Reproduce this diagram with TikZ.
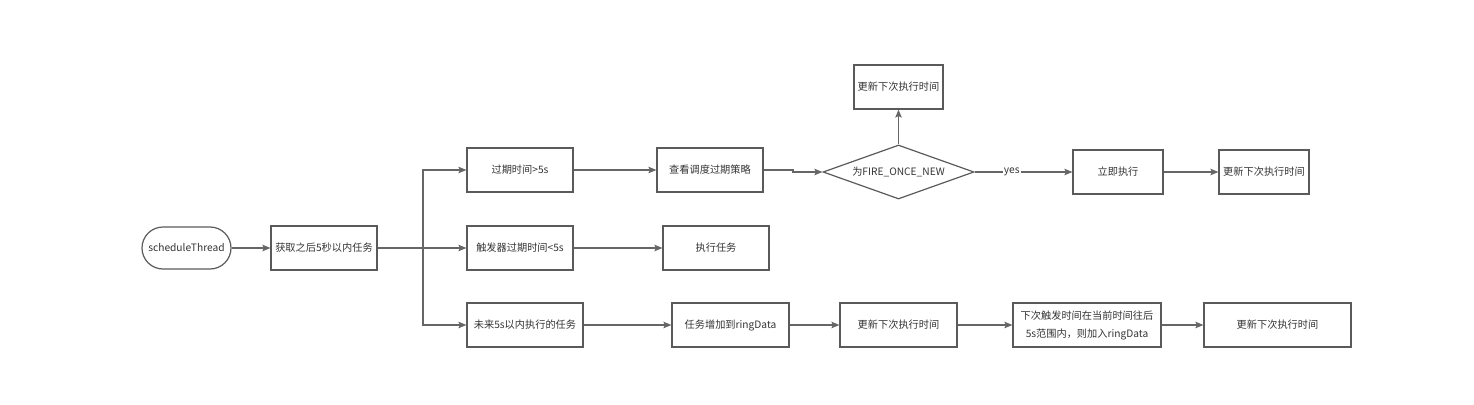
\documentclass[tikz,border=0pt]{standalone}
\usepackage{fontspec}
\setmainfont{Noto Sans CJK SC}
\usetikzlibrary{arrows.meta,shapes.geometric}
\definecolor{linec}{HTML}{666666}
\definecolor{boxc}{HTML}{5A5A5A}
\definecolor{txtc}{HTML}{333333}
\begin{document}
\begin{tikzpicture}[x=1pt,y=-1pt,
  every node/.style={font=\fontsize{10.2}{18}\selectfont,text=txtc},
  boxn/.style={draw=boxc,line width=1.2pt,rectangle,inner sep=0pt,align=center},
  conn/.style={draw=linec,line width=1.3pt,-{Stealth[length=8pt,width=6.5pt,inset=1.5pt]}},
]
\useasboundingbox (0,0) rectangle (1474,404);
\node[boxn,rounded corners=21pt,minimum width=89pt,minimum height=42pt] (st) at (186.5,248) {scheduleThread};
\node[boxn,minimum width=106pt,minimum height=44pt] (get) at (324,248) {获取之后5秒以内任务};
\node[boxn,minimum width=106pt,minimum height=44pt] (a1) at (520,170) {过期时间>5s};
\node[boxn,minimum width=106pt,minimum height=44pt] (b1) at (520,248) {触发器过期时间<5s};
\node[boxn,minimum width=116pt,minimum height=44pt] (c1) at (525,325) {未来5s以内执行的任务};
\node[boxn,minimum width=106pt,minimum height=44pt] (a2) at (710,170) {查看调度过期策略};
\node[draw=boxc,line width=1.2pt,shape=diamond,aspect=2.8,inner sep=0pt,minimum width=151pt,minimum height=54pt] (dd) at (898.5,172) {为FIRE\_ONCE\_NEW};
\node[boxn,minimum width=89pt,minimum height=44pt] (up) at (898.5,87) {更新下次执行时间};
\node[boxn,minimum width=90pt,minimum height=44pt] (a3) at (1118,172) {立即执行};
\node[boxn,minimum width=90pt,minimum height=44pt] (a4) at (1264,172) {更新下次执行时间};
\node[boxn,minimum width=106pt,minimum height=44pt] (b2) at (716,248) {执行任务};
\node[boxn,minimum width=117pt,minimum height=44pt] (c2) at (730.5,325) {任务增加到ringData};
\node[boxn,minimum width=117pt,minimum height=44pt] (c3) at (898.5,325) {更新下次执行时间};
\node[boxn,minimum width=148pt,minimum height=44pt] (c4) at (1087,325) {下次触发时间在当前时间往后\\5s范围内，则加入ringData};
\node[boxn,minimum width=147pt,minimum height=44pt] (c5) at (1277.5,325) {更新下次执行时间};
\coordinate (br) at (423,248);
\coordinate (jg) at (793,170);
\draw[conn] (st) -- (get);
\draw[conn] (get.east) -- (br) |- (a1.west);
\draw[conn] (get.east) -- (b1.west);
\draw[conn] (br) |- (c1.west);
\draw[conn] (a1) -- (a2);
\draw[conn] (a2.east) -- (jg) |- (dd.west);
\draw[conn] (dd.north) -- (up.south);
\draw[conn] (dd.east) -- node[fill=white,inner sep=1pt,pos=0.38] {yes} (a3.west);
\draw[conn] (a3) -- (a4);
\draw[conn] (b1) -- (b2);
\draw[conn] (c1) -- (c2);
\draw[conn] (c2) -- (c3);
\draw[conn] (c3) -- (c4);
\draw[conn] (c4) -- (c5);
\end{tikzpicture}
\end{document}
